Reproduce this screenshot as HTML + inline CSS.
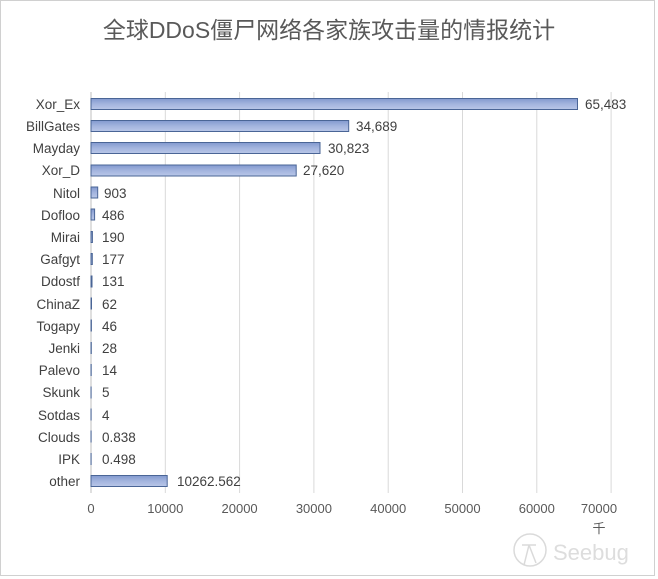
<!DOCTYPE html>
<html><head><meta charset="utf-8"><style>body{margin:0;background:#fff}svg{display:block}</style></head>
<body>
<svg width="658" height="579" xmlns="http://www.w3.org/2000/svg" font-family="Liberation Sans, Noto Sans CJK SC, sans-serif">
<defs><linearGradient id="g" x1="0" y1="0" x2="0" y2="1"><stop offset="0" stop-color="#8299cf"/><stop offset="0.5" stop-color="#a3b4de"/><stop offset="1" stop-color="#b9c7e8"/></linearGradient></defs>
<rect x="0.5" y="0.5" width="654" height="575" fill="#fff" stroke="#d0d0d0"/>
<text x="329" y="38" text-anchor="middle" font-size="23" fill="#595959" font-family="Liberation Sans, Noto Sans CJK SC, sans-serif">全球DDoS僵尸网络各家族攻击量的情报统计</text>
<g stroke="#d9d9d9" stroke-width="1">
<line x1="165.3" y1="92" x2="165.3" y2="493"/><line x1="239.6" y1="92" x2="239.6" y2="493"/><line x1="313.9" y1="92" x2="313.9" y2="493"/><line x1="388.2" y1="92" x2="388.2" y2="493"/><line x1="462.5" y1="92" x2="462.5" y2="493"/><line x1="536.8" y1="92" x2="536.8" y2="493"/><line x1="611.1" y1="92" x2="611.1" y2="493"/>
</g>
<line x1="91" y1="92" x2="91" y2="493" stroke="#bfbfbf"/>
<g font-size="13" fill="#595959" text-anchor="middle">
<text x="91" y="513">0</text><text x="165.3" y="513">10000</text><text x="239.6" y="513">20000</text><text x="313.9" y="513">30000</text><text x="388.2" y="513">40000</text><text x="462.5" y="513">50000</text><text x="536.8" y="513">60000</text><text x="599" y="513">70000</text>
<text x="599" y="533" font-family="Noto Sans CJK SC, sans-serif">千</text>
</g>
<g font-size="13.5" fill="#404040" text-anchor="end">
<text x="80" y="109">Xor_Ex</text><text x="80" y="131">BillGates</text><text x="80" y="153">Mayday</text><text x="80" y="175">Xor_D</text><text x="80" y="198">Nitol</text><text x="80" y="220">Dofloo</text><text x="80" y="242">Mirai</text><text x="80" y="264">Gafgyt</text><text x="80" y="286">Ddostf</text><text x="80" y="309">ChinaZ</text><text x="80" y="331">Togapy</text><text x="80" y="353">Jenki</text><text x="80" y="375">Palevo</text><text x="80" y="397">Skunk</text><text x="80" y="420">Sotdas</text><text x="80" y="442">Clouds</text><text x="80" y="464">IPK</text><text x="80" y="486">other</text>
</g>
<g fill="url(#g)" stroke="#4a6596" stroke-width="1">
<rect x="91" y="98.5" width="486.5" height="11"/>
<rect x="91" y="120.5" width="257.7" height="11"/>
<rect x="91" y="142.5" width="229" height="11"/>
<rect x="91" y="165" width="205.2" height="11"/>
<rect x="91" y="187" width="6.7" height="11"/>
<rect x="91" y="209" width="3.6" height="11"/>
<rect x="91" y="231.5" width="1.4" height="11"/>
<rect x="91" y="253.5" width="1.3" height="11"/>
<rect x="91" y="276" width="1" height="11"/>
<rect x="91" y="298" width="0.5" height="11"/>
<rect x="91" y="320" width="0.4" height="11"/>
<rect x="91" y="342.5" width="0.3" height="11"/>
<rect x="91" y="364.5" width="0.2" height="11"/>
<rect x="91" y="387" width="0.1" height="11"/>
<rect x="91" y="409" width="0.1" height="11"/>
<rect x="91" y="431" width="0.1" height="11"/>
<rect x="91" y="453.5" width="0.1" height="11"/>
<rect x="91" y="475.5" width="76.2" height="11"/>
</g>
<g font-size="13.5" fill="#404040">
<text x="585" y="109">65,483</text><text x="356" y="131">34,689</text><text x="328" y="153">30,823</text><text x="303" y="175">27,620</text><text x="104" y="198">903</text><text x="102" y="220">486</text><text x="102" y="242">190</text><text x="102" y="264">177</text><text x="102" y="286">131</text><text x="102" y="309">62</text><text x="102" y="331">46</text><text x="102" y="353">28</text><text x="102" y="375">14</text><text x="102" y="397">5</text><text x="102" y="420">4</text><text x="102" y="442">0.838</text><text x="102" y="464">0.498</text><text x="177" y="486">10262.562</text>
</g>
<g opacity="0.3" stroke="#888" fill="none" stroke-width="1.5">
<circle cx="530" cy="550" r="16"/><path d="M522 545 L536 545 M529 545 L524 565 M529 545 L536 563"/>
</g>
<text x="553" y="560" font-size="22" fill="#ddd">Seebug</text>
</svg>
</body></html>
